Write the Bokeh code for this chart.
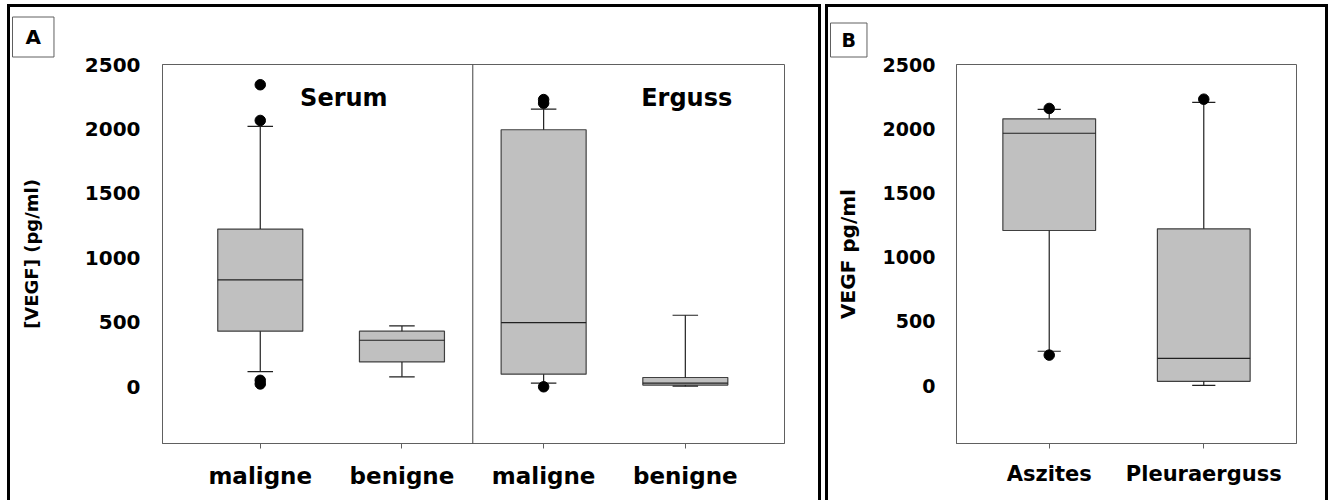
from bokeh.plotting import figure
from bokeh.layouts import row
from bokeh.models import FixedTicker, Span, Label, Title
from bokeh.embed import file_html
from bokeh.resources import INLINE

# ---------------- data ----------------
A_groups = ["Serum", "Serum", "Erguss", "Erguss"]
A_cats = ["maligne", "benigne", "maligne", "benigne"]
A_lower = [118, 77, 29, 5]
A_q1 = [431, 193, 98, 13]
A_median = [830, 361, 498, 29]
A_q3 = [1223, 431, 1994, 72]
A_upper = [2020, 472, 2154, 555]
A_out_pos = [1, 1, 1, 1, 3, 3, 3]
A_out_val = [2343, 2066, 50, 22, 2228, 2200, 0]

B_cats = ["Aszites", "Pleuraerguss"]
B_lower = [268, 3]
B_q1 = [1208, 34]
B_median = [1965, 212]
B_q3 = [2077, 1221]
B_upper = [2150, 2205]
B_out_pos = [1, 1, 2]
B_out_val = [2158, 238, 2230]

y_ticks = [0, 500, 1000, 1500, 2000, 2500]

FONT = "DejaVu Sans"
FILL = "#c0c0c0"
EDGE = "#404040"
FRAME = "#606060"
BORDER = "3px solid black"


def boxes(p, cats, lower, q1, med, q3, upper, opos, oval, bw, cw):
    xs = list(range(1, len(cats) + 1))
    p.vbar(x=xs, width=bw, bottom=q1, top=q3, fill_color=FILL,
           line_color=EDGE, line_width=1.2)
    p.segment(x0=[x - bw / 2 for x in xs], x1=[x + bw / 2 for x in xs],
              y0=med, y1=med, line_color="#202020", line_width=1.2)
    p.segment(x0=xs, x1=xs, y0=q3, y1=upper, line_color="#202020", line_width=1.2)
    p.segment(x0=xs, x1=xs, y0=q1, y1=lower, line_color="#202020", line_width=1.2)
    p.segment(x0=[x - cw / 2 for x in xs], x1=[x + cw / 2 for x in xs],
              y0=upper, y1=upper, line_color="#202020", line_width=1.2)
    p.segment(x0=[x - cw / 2 for x in xs], x1=[x + cw / 2 for x in xs],
              y0=lower, y1=lower, line_color="#202020", line_width=1.2)
    p.scatter(x=opos, y=oval, size=10.5, marker="circle", fill_color="black",
              line_color="black")


def style(p, cats, ysize, xsize, ylabel_size, xstand, ystand, lab_stand):
    p.xaxis.ticker = FixedTicker(ticks=list(range(1, len(cats) + 1)))
    p.xaxis.major_label_overrides = {i + 1: c for i, c in enumerate(cats)}
    p.yaxis.ticker = FixedTicker(ticks=y_ticks)
    for ax in (p.xaxis, p.yaxis):
        ax.axis_line_color = FRAME
        ax.major_tick_line_color = FRAME
        ax.minor_tick_line_color = None
        ax.major_label_text_font = FONT
        ax.major_label_text_font_style = "bold"
        ax.major_label_text_color = "black"
        ax.axis_label_text_font = FONT
        ax.axis_label_text_font_style = "bold"
        ax.axis_label_text_color = "black"
    p.xaxis.major_tick_out = 5
    p.xaxis.major_tick_in = 0
    p.yaxis.major_tick_out = 0
    p.yaxis.major_tick_in = 0
    p.xaxis.major_label_text_font_size = f"{xsize}px"
    p.yaxis.major_label_text_font_size = f"{ysize}px"
    p.yaxis.axis_label_text_font_size = f"{ylabel_size}px"
    p.xaxis.major_label_standoff = xstand
    p.yaxis.major_label_standoff = ystand
    p.yaxis.axis_label_standoff = lab_stand
    p.xgrid.visible = False
    p.ygrid.visible = False
    p.outline_line_color = FRAME
    p.outline_line_width = 1


def panel_tag(text, offset, standoff, size, pad):
    return Title(text=text, align="left", offset=offset, standoff=standoff,
                 text_font=FONT, text_font_style="bold",
                 text_font_size=f"{size}px", text_color="black",
                 border_line_color=FRAME, background_fill_color="white",
                 padding=pad)


BORDER_STYLES = {"border-left": BORDER, "border-top": BORDER, "border-right": BORDER}

# ---------------- panel A ----------------
pA = figure(width=814, height=496, x_range=(0.31, 4.70), y_range=(-440, 2500),
            output_backend="svg", toolbar_location=None,
            title=panel_tag("A", -150, 15, 20, (13, 8)),
            min_border_left=152, min_border_right=40, min_border_top=56,
            min_border_bottom=60, margin=(4, 0, 0, 7), styles=BORDER_STYLES)
boxes(pA, A_cats, A_lower, A_q1, A_median, A_q3, A_upper, A_out_pos, A_out_val,
      0.6, 0.18)
style(pA, A_cats, 20, 23, 18, 14, 22, 40)
pA.yaxis.axis_label = "[VEGF] (pg/ml)"
pA.add_layout(Span(location=2.5, dimension="height", line_color=EDGE, line_width=1))
pA.add_layout(Label(x=1.59, y=2237, text="Serum", text_font=FONT, text_color="black",
                    text_font_style="bold", text_font_size="24px",
                    text_align="center", text_baseline="middle"))
pA.add_layout(Label(x=4.01, y=2237, text="Erguss", text_font=FONT, text_color="black",
                    text_font_style="bold", text_font_size="24px",
                    text_align="center", text_baseline="middle"))

# ---------------- panel B ----------------
pB = figure(width=503, height=496, x_range=(0.40, 2.60), y_range=(-450, 2500),
            output_backend="svg", toolbar_location=None,
            title=panel_tag("B", -126, 15, 19, (11, 6)),
            min_border_left=128, min_border_right=35, min_border_top=55,
            min_border_bottom=56, margin=(4, 0, 0, 0), styles=BORDER_STYLES)
boxes(pB, B_cats, B_lower, B_q1, B_median, B_q3, B_upper, B_out_pos, B_out_val,
      0.6, 0.15)
style(pB, B_cats, 19, 21, 20, 13, 21, 20)
pB.yaxis.axis_label = "VEGF pg/ml"

layout = row(pA, pB, spacing=4)
open("out.html", "w").write(file_html(layout, INLINE))
